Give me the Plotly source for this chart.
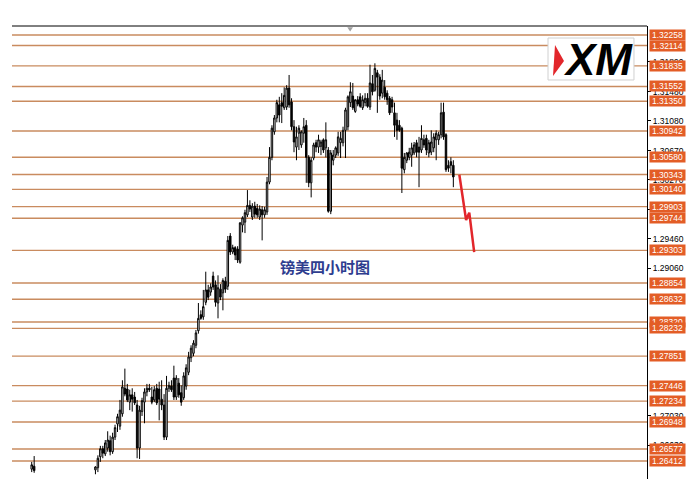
import plotly.graph_objects as go

# ---- data (GBPUSD 4H) ----
open_ = [1.2630, 1.2634,
 1.2610,1.2601,1.2594,1.2597,1.2590,1.2580,1.2586,1.2583,1.2570,1.2575,1.2580,1.2588,1.2581,1.2567,1.2560,1.2566,1.2576,1.2573,1.2587,1.2593,1.2588,1.2600,1.2596,1.2607,
 1.2629,1.2632,1.2647,1.2658,1.2651,1.2659,1.2669,1.2654,1.2674,1.2692,1.2689,1.2706,1.2741,1.2740,1.2722,1.2732,1.2729,1.2718,1.2659,1.2709,1.2722,1.2736,1.2741,1.2729,1.2725,1.2741,1.2740,1.2726,1.2718,1.2674,1.2741,1.2744,1.2755,1.2729,1.2748,1.2735,1.2728,1.2744,1.2763,1.2783,1.2789,1.2800,
 1.2820,1.2842,1.2839,1.2859,1.2876,1.2873,1.2895,1.2883,1.2858,1.2877,1.2872,1.2888,1.2881,1.2950,1.2928,1.2934,1.2932,1.2914,1.2965,1.2969,1.2979,1.2992,1.2976,1.2991,1.2988,1.2976,1.2986,1.2979,1.2983,1.3024,1.3058,1.3093,1.3112,1.3130,1.3133,1.3126,1.3127,1.3153,1.3134,1.3100,1.3072,1.3091,1.3075,1.3091,1.3102,1.3058,1.3023,1.3057,1.3078,1.3072,1.3073,1.3082,1.3071,1.3068,1.2984,1.3054,1.3061,1.3064,1.3078,1.3078,1.3095,1.3100,1.3133,1.3142,1.3121,1.3137,1.3141,1.3126,1.3133,1.3139,1.3127,1.3159,1.3150,1.3174,1.3168,1.3146,1.3154,1.3146,1.3139,1.3137,1.3119,1.3109,1.3102,1.3098,1.3041,1.3054,1.3058,1.3061,1.3064,1.3078,1.3072,1.3068,1.3082,1.3084,1.3064,1.3065,1.3071,1.3082,1.3082,1.3089,1.3120,1.3089,1.3047,1.3052,1.3047]
high = [1.2640, 1.2648,
 1.2613,1.2606,1.2600,1.2604,1.2596,1.2589,1.2595,1.2588,1.2578,1.2584,1.2591,1.2596,1.2587,1.2573,1.2570,1.2579,1.2585,1.2590,1.2597,1.2601,1.2603,1.2608,1.2611,1.2613,
 1.2634,1.2649,1.2662,1.2662,1.2670,1.2682,1.2676,1.2680,1.2691,1.2706,1.2725,1.2752,1.2768,1.2747,1.2739,1.2741,1.2736,1.2725,1.2717,1.2728,1.2741,1.2747,1.2747,1.2743,1.2744,1.2747,1.2750,1.2752,1.2733,1.2758,1.2750,1.2752,1.2772,1.2759,1.2755,1.2745,1.2763,1.2774,1.2791,1.2800,1.2807,1.2821,
 1.2858,1.2848,1.2876,1.2901,1.2883,1.2885,1.2901,1.2889,1.2896,1.2884,1.2892,1.2894,1.2950,1.2954,1.2938,1.2936,1.2936,1.2969,1.2977,1.2986,1.3013,1.2999,1.2995,1.2997,1.2994,1.2992,1.2991,1.2990,1.3031,1.3072,1.3102,1.3116,1.3137,1.3141,1.3146,1.3154,1.3157,1.3171,1.3139,1.3109,1.3100,1.3102,1.3095,1.3112,1.3109,1.3061,1.3058,1.3078,1.3082,1.3089,1.3082,1.3084,1.3106,1.3072,1.3068,1.3068,1.3073,1.3093,1.3093,1.3100,1.3126,1.3143,1.3161,1.3160,1.3137,1.3142,1.3146,1.3143,1.3146,1.3146,1.3185,1.3171,1.3187,1.3178,1.3172,1.3178,1.3164,1.3150,1.3142,1.3141,1.3133,1.3119,1.3109,1.3100,1.3064,1.3065,1.3071,1.3078,1.3079,1.3082,1.3086,1.3102,1.3089,1.3089,1.3082,1.3095,1.3091,1.3095,1.3093,1.3133,1.3133,1.3091,1.3054,1.3058,1.3054]
low = [1.2626, 1.2625,
 1.2598,1.2590,1.2584,1.2588,1.2575,1.2571,1.2579,1.2566,1.2558,1.2569,1.2574,1.2577,1.2563,1.2552,1.2554,1.2561,1.2570,1.2568,1.2580,1.2583,1.2585,1.2592,1.2591,1.2598,
 1.2623,1.2626,1.2640,1.2645,1.2648,1.2654,1.2649,1.2651,1.2670,1.2681,1.2684,1.2702,1.2730,1.2722,1.2711,1.2709,1.2718,1.2645,1.2644,1.2703,1.2693,1.2730,1.2736,1.2719,1.2722,1.2718,1.2697,1.2711,1.2670,1.2670,1.2736,1.2736,1.2725,1.2725,1.2728,1.2717,1.2725,1.2739,1.2759,1.2777,1.2785,1.2796,
 1.2816,1.2835,1.2835,1.2855,1.2862,1.2868,1.2876,1.2853,1.2837,1.2862,1.2848,1.2872,1.2876,1.2924,1.2925,1.2917,1.2913,1.2912,1.2955,1.2954,1.2976,1.2983,1.2972,1.2975,1.2975,1.2972,1.2944,1.2975,1.2979,1.3021,1.3054,1.3089,1.3106,1.3106,1.3105,1.3123,1.3123,1.3126,1.3095,1.3065,1.3054,1.3068,1.3071,1.3078,1.3023,1.3017,1.3003,1.3054,1.3065,1.3064,1.3061,1.3064,1.3058,1.2982,1.2980,1.3047,1.3057,1.3060,1.3057,1.3073,1.3057,1.3095,1.3127,1.3123,1.3119,1.3128,1.3126,1.3123,1.3128,1.3126,1.3123,1.3143,1.3148,1.3119,1.3137,1.3139,1.3137,1.3130,1.3116,1.3119,1.3086,1.3082,1.3093,1.3009,1.3036,1.3050,1.3054,1.3045,1.3061,1.3058,1.3017,1.3064,1.3071,1.3061,1.3058,1.3061,1.3065,1.3054,1.3075,1.3084,1.3082,1.3038,1.3038,1.3036,1.3017]
close = [1.2636, 1.2628,
 1.2601,1.2594,1.2597,1.2590,1.2580,1.2586,1.2583,1.2570,1.2575,1.2580,1.2588,1.2581,1.2567,1.2560,1.2566,1.2576,1.2573,1.2587,1.2593,1.2588,1.2600,1.2596,1.2607,1.2604,
 1.2633,1.2645,1.2658,1.2652,1.2666,1.2670,1.2654,1.2674,1.2687,1.2702,1.2711,1.2743,1.2733,1.2725,1.2732,1.2726,1.2721,1.2659,1.2711,1.2724,1.2736,1.2741,1.2739,1.2722,1.2739,1.2721,1.2726,1.2718,1.2674,1.2741,1.2745,1.2739,1.2729,1.2755,1.2732,1.2722,1.2758,1.2769,1.2784,1.2796,1.2803,1.2817,
 1.2837,1.2837,1.2853,1.2876,1.2866,1.2880,1.2880,1.2859,1.2879,1.2866,1.2889,1.2877,1.2944,1.2928,1.2934,1.2924,1.2917,1.2968,1.2975,1.2982,1.2992,1.2987,1.2991,1.2980,1.2979,1.2987,1.2979,1.2986,1.3024,1.3058,1.3098,1.3112,1.3133,1.3116,1.3128,1.3143,1.3153,1.3130,1.3100,1.3079,1.3086,1.3098,1.3093,1.3100,1.3058,1.3023,1.3054,1.3075,1.3072,1.3082,1.3079,1.3068,1.3082,1.2984,1.3064,1.3061,1.3071,1.3086,1.3084,1.3095,1.3123,1.3141,1.3148,1.3126,1.3137,1.3131,1.3128,1.3137,1.3139,1.3128,1.3160,1.3148,1.3180,1.3168,1.3142,1.3164,1.3141,1.3137,1.3119,1.3127,1.3102,1.3095,1.3095,1.3043,1.3058,1.3064,1.3065,1.3071,1.3075,1.3065,1.3065,1.3084,1.3075,1.3068,1.3078,1.3079,1.3086,1.3091,1.3089,1.3119,1.3086,1.3041,1.3043,1.3047,1.3031]

# projected path (red)
proj_x = [174.45, 177.2, 178.5, 180.5]
proj_y = [1.3034, 1.2972, 1.2982, 1.2928]

# horizontal levels
levels = [1.32258, 1.32114, 1.31835, 1.31552, 1.31350, 1.30942, 1.30580, 1.30343,
          1.30140, 1.29903, 1.29744, 1.29303, 1.28854, 1.28632, 1.28320, 1.28232,
          1.27851, 1.27446, 1.27234, 1.26948, 1.26577, 1.26412]

tick_vals = [1.31890, 1.31480, 1.31080, 1.30670, 1.30270, 1.29870, 1.29460, 1.29060,
             1.27030, 1.26630]
tick_text = ["%.5f" % v for v in tick_vals]

title_text = "镑美四小时图"

x = list(range(len(close)))

fig = go.Figure()
fig.add_trace(go.Candlestick(
    x=x, open=open_, high=high, low=low, close=close,
    increasing=dict(line=dict(color="black", width=1), fillcolor="#f4f4f4"),
    decreasing=dict(line=dict(color="black", width=1), fillcolor="black"),
    whiskerwidth=0, hoverinfo="skip", showlegend=False))
fig.add_trace(go.Scatter(x=proj_x, y=proj_y, mode="lines",
                         line=dict(color="#e2262b", width=2.5), showlegend=False, hoverinfo="skip"))

line_col = "#c98b5f"
shapes = []
for v in levels:
    shapes.append(dict(type="line", xref="paper", x0=0, x1=1, yref="y", y0=v, y1=v,
                       line=dict(color=line_col, width=1.4), layer="below"))
# top border
shapes.append(dict(type="line", xref="paper", yref="paper", x0=0, x1=1, y0=1, y1=1,
                   line=dict(color="black", width=1)))
# shift marker
shapes.append(dict(type="path", xref="paper", yref="paper",
                   path="M 0.528,0.9975 L 0.537,0.9975 L 0.5325,0.988 Z",
                   fillcolor="#a0a0a0", line=dict(width=0)))
# logo box
shapes.append(dict(type="rect", xref="paper", yref="paper", x0=0.8441, x1=0.9795,
                   y0=0.8808, y1=0.9735, fillcolor="white",
                   line=dict(color="#d0d0d0", width=1)))
shapes.append(dict(type="path", xref="paper", yref="paper",
                   path="M 0.8551,0.9581 L 0.8693,0.9227 L 0.8520,0.8896 Z",
                   fillcolor="#e2262b", line=dict(width=0)))

annotations = []
for v in levels:
    annotations.append(dict(xref="paper", x=1, xanchor="left", xshift=2, yref="y", y=v,
                            yanchor="middle", text="%.5f" % v, showarrow=False,
                            bgcolor="#e35d26", borderpad=0, width=35, height=10,
                            font=dict(family="Liberation Sans", size=8.5, color="white")))
annotations.append(dict(xref="paper", yref="paper", x=0.4929, y=0.468, text="<b>" + title_text + "</b>",
                        showarrow=False, xanchor="center", yanchor="middle",
                        font=dict(family="Noto Sans CJK SC", size=15, color="#2e3d8f")))
annotations.append(dict(xref="paper", yref="paper", x=0.9228, y=0.925, text="<b><i>XM</i></b>",
                        showarrow=False, xanchor="center", yanchor="middle",
                        font=dict(family="Liberation Sans", size=44, color="black")))

fig.update_layout(
    width=700, height=479,
    margin=dict(l=12, r=53, t=26, b=0),
    paper_bgcolor="white", plot_bgcolor="white",
    boxgap=0.15,
    shapes=shapes, annotations=annotations,
    xaxis=dict(range=[-8.04, 251.0], visible=False, rangeslider=dict(visible=False)),
    yaxis=dict(range=[1.26165, 1.32382], side="right", showgrid=False, zeroline=False,
               showline=True, linecolor="black", linewidth=1,
               ticks="outside", ticklen=3, tickcolor="black",
               tickvals=tick_vals, ticktext=tick_text,
               tickfont=dict(family="Liberation Sans", size=8.5, color="black")),
)

fig.write_html("out.html", config={"displayModeBar": False},
               post_script="document.body.style.margin='0';document.body.style.overflow='hidden';")
